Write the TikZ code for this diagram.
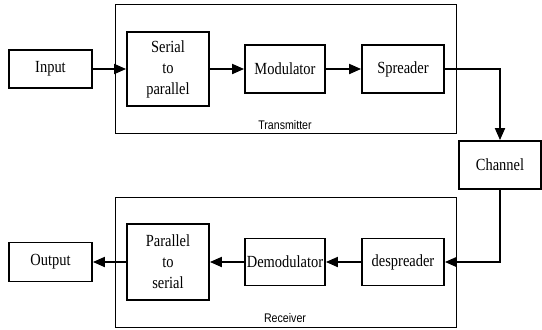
\documentclass[tikz,border=0pt]{standalone}
\usepackage{fontspec}
\setmainfont{Liberation Serif}
\newfontfamily\blockfont[FakeStretch=0.85]{Liberation Serif}
\newfontfamily\framefont[FakeStretch=0.85]{Liberation Sans}
\usetikzlibrary{arrows.meta}

\begin{document}
\begin{tikzpicture}[x=1pt,y=-1pt,>={Triangle[length=12pt,width=10pt]},auto]
  \tikzset{block/.style={draw,line width=1.8pt,inner sep=0.5pt,align=center,
      font=\blockfont\fontsize{17}{21}\selectfont},
    frame/.style={draw,line width=1pt},
    framelabel/.style={font=\framefont\fontsize{12.5}{14}\selectfont}}
  \useasboundingbox (0,0) rectangle (542,330);
  % transmitter
  \draw[frame] (115,4) rectangle (456,133);
  \node[framelabel] (tx) at (285,125) {Transmitter};
  \node[block,minimum width=83pt,minimum height=38pt] (in)  at (50.5,69) {Input};
  \node[block,minimum width=82pt,minimum height=74pt] (s2p) at (168,69)  {Serial\\to\\parallel};
  \node[block,minimum width=80pt,minimum height=48pt] (mod) at (285,69)  {Modulator};
  \node[block,minimum width=82pt,minimum height=48pt] (spr) at (403,69)  {Spreader};
  \node[block,minimum width=82pt,minimum height=48pt] (ch)  at (500,165) {Channel};
  % receiver
  \draw[frame] (115,197) rectangle (456,327);
  \node[framelabel] (rx) at (285,318) {Receiver};
  \node[block,minimum width=82pt,minimum height=47pt] (dsp) at (403,262) {despreader};
  \node[block,minimum width=80pt,minimum height=47pt] (dem) at (285,262) {Demodulator};
  \node[block,minimum width=82pt,minimum height=76pt] (p2s) at (168,262) {Parallel\\to\\serial};
  \node[block,minimum width=83pt,minimum height=39pt] (out) at (50.5,262) {Output};
  \path[->,line width=1.8pt] (in)  edge (s2p)
                             (s2p) edge (mod)
                             (mod) edge (spr)
                             (dsp) edge (dem)
                             (dem) edge (p2s)
                             (p2s) edge (out);
  \draw[->,line width=1.8pt] (spr.east) -| (ch.north);
  \draw[->,line width=1.8pt] (ch.south) |- (dsp.east);
\end{tikzpicture}
\end{document}
